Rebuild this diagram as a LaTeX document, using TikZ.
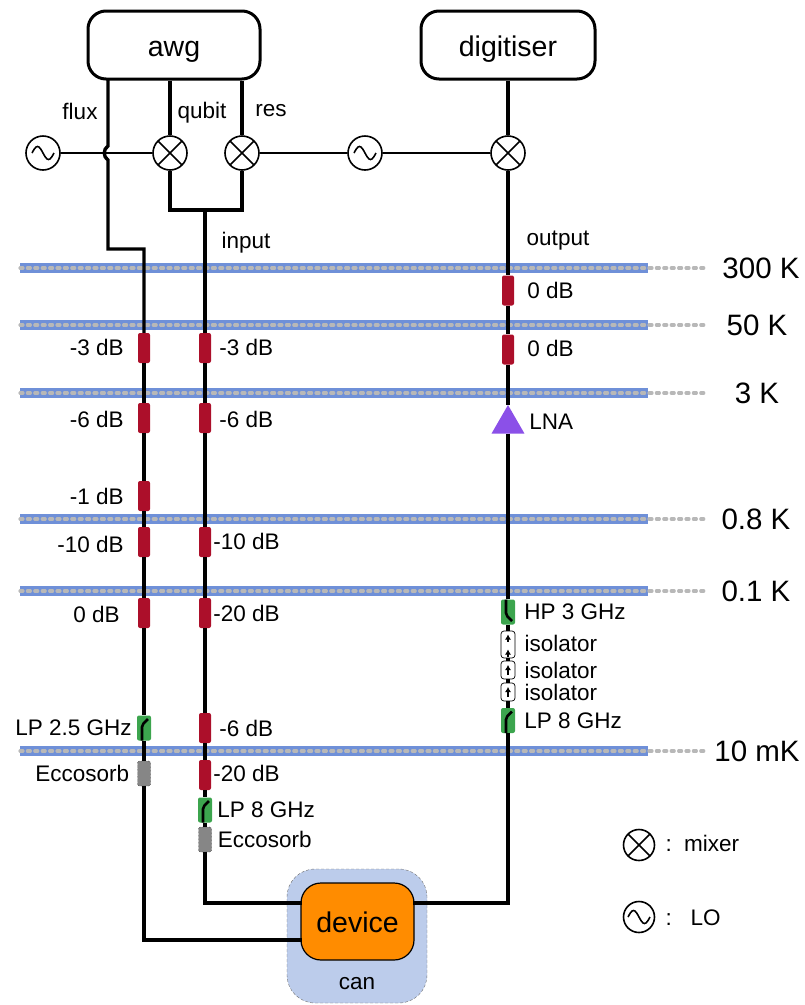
\documentclass[tikz,border=0pt]{standalone}
\usepackage{fontspec}
\setmainfont{Liberation Sans}
\usetikzlibrary{positioning,shapes.geometric,arrows.meta}
\definecolor{attred}{RGB}{172,15,42}
\definecolor{filtgreen}{RGB}{60,165,78}
\definecolor{plateblue}{RGB}{111,144,216}
\definecolor{platedash}{RGB}{184,184,184}
\definecolor{canblue}{RGB}{188,204,235}
\definecolor{devorange}{RGB}{255,140,0}
\definecolor{lnapurple}{RGB}{139,80,232}
\tikzset{
  instr/.style={draw=black, line width=3pt, rounded corners=18pt, fill=white, minimum width=172pt,
    minimum height=68pt, text height=22pt, text depth=0pt, font=\fontsize{28.5}{32}\selectfont},
  wire/.style={line width=3.4pt},
  lowire/.style={line width=1.6pt},
  mixer/.style={circle, draw=black, line width=1.6pt, fill=white, minimum size=34pt, inner sep=0pt,
    path picture={\draw[line width=1.6pt] (path picture bounding box.south west) -- (path picture bounding box.north east)
      (path picture bounding box.north west) -- (path picture bounding box.south east);}},
  losrc/.style={circle, draw=black, line width=1.6pt, fill=white, minimum size=34pt, inner sep=0pt,
    path picture={\draw[line width=1.6pt] (path picture bounding box.center) ++(-11,0) sin ++(5.5,-6.5) cos ++(5.5,6.5)
      sin ++(5.5,6.5) cos ++(5.5,-6.5);}},
  atten/.style={fill=attred, rounded corners=2pt, minimum width=12pt, minimum height=30pt, inner sep=0pt},
  filt/.style={fill=filtgreen, rounded corners=2pt, minimum width=14pt, minimum height=25pt, inner sep=0pt},
  lpfilt/.style={filt, path picture={\draw[line width=2.6pt] (path picture bounding box.center) ++(-2,13) -- ++(0,-16) -- ++(6,-6);}},
  hpfilt/.style={filt, path picture={\draw[line width=2.6pt] (path picture bounding box.center) ++(-2,-13) -- ++(0,16) -- ++(6,6);}},
  eccosorb/.style={fill=gray!95, draw=black, densely dotted, rounded corners=2pt, minimum width=13pt,
    minimum height=25pt, inner sep=0pt},
  isobox/.style={draw=black, line width=0.7pt, fill=white, rounded corners=3pt, minimum width=14pt, minimum height=18pt, inner sep=0pt},
  isolator/.style={isobox, path picture={\draw[-{Latex[length=5pt,width=6pt]}, line width=1.4pt]
    (path picture bounding box.center) ++(0,5) -- ++(0,-10);}},
  longiso/.style={isobox, minimum height=27pt, path picture={\draw[-{Latex[length=5pt,width=6pt]}, line width=1.4pt]
    (path picture bounding box.center) ++(0,-3) -- ++(0,-7);
    \draw[-{Latex[length=5pt,width=6pt]}, line width=1.4pt] (path picture bounding box.center) ++(0,12) -- ++(0,-7);}},
  lbl/.style={inner sep=0pt, font=\fontsize{22.5}{26}\selectfont},
  templbl/.style={inner sep=0pt, font=\fontsize{29.5}{32}\selectfont}
}
\begin{document}
\begin{tikzpicture}[x=1pt, y=-1pt, node distance=14pt]
  \useasboundingbox (0,0) rectangle (805,1005);

  \foreach \ypos/\xpos/\temp in {268/761/300 K, 325/757/50 K, 393/757/3 K, 519/756/0.8 K, 591/756/0.1 K, 751/757/10 mK} {
    \fill[plateblue] (20,\ypos-5) rectangle (648,\ypos+5);
    \draw[platedash, line width=3.2pt, dash pattern=on 3pt off 4.4pt, line cap=round] (20,\ypos) -- (706,\ypos);
    \node[templbl] at (\xpos,\ypos) {\temp};
  }

  \node[draw=black!55, densely dashed, fill=canblue, rounded corners=28pt, minimum width=140pt, minimum height=134pt] (can) at (357,936) {};
  \node[lbl] at (357,984) {can};
  \node[draw=black, line width=1.2pt, fill=devorange, rounded corners=20pt, minimum width=113pt, minimum height=77pt,
    text height=21pt, text depth=0pt, font=\fontsize{28.5}{32}\selectfont] (device) at (357.5,921.5) {device};

  \node[instr] (awg) at (174,45) {awg};
  \node[instr, minimum width=174pt] (digitiser) at (508,45) {digitiser};

  \node[losrc] (lo1) at (43,153) {};
  \node[mixer] (mixq) at (170,153) {};
  \node[mixer] (mixr) at (242,153) {};
  \node[losrc] (lo2) at (365,153) {};
  \node[mixer] (mixo) at (508,153) {};

  \node[lbl] at (80,111) {flux};
  \node[lbl] at (202,113) {qubit};
  \node[lbl] at (271,111) {res};
  \node[lbl] at (246,243) {input};
  \node[lbl] at (558,241) {output};

  \node[atten] (fa1) at (144,348) {};
  \node[atten] (fa2) at (144,418) {};
  \node[atten] (fa3) at (144,496) {};
  \node[atten] (fa4) at (144,542) {};
  \node[atten] (fa5) at (144,613) {};
  \node[lpfilt] (flp) at (144,728) {};
  \node[eccosorb] (fec) at (144,773.5) {};
  \node[lbl, left=of fa1, yshift=1pt] {-3 dB};
  \node[lbl, left=of fa2, yshift=-1pt] {-6 dB};
  \node[lbl, left=of fa3] {-1 dB};
  \node[lbl, left=of fa4, yshift=-2pt] {-10 dB};
  \node[lbl, left=18pt of fa5, yshift=-1pt] {0 dB};
  \node[lbl, left=5pt of flp] {LP 2.5 GHz};
  \node[lbl, left=8pt of fec] {Eccosorb};

  \node[atten] (ia1) at (205,348) {};
  \node[atten] (ia2) at (205,418) {};
  \node[atten] (ia3) at (205,542) {};
  \node[atten] (ia4) at (205,613) {};
  \node[atten] (ia5) at (205,728) {};
  \node[atten] (ia6) at (205,775) {};
  \node[lpfilt] (ilp) at (205,810) {};
  \node[eccosorb] (iec) at (205,839.5) {};
  \node[lbl, right=8pt of ia1, yshift=1pt] {-3 dB};
  \node[lbl, right=8pt of ia2, yshift=-1pt] {-6 dB};
  \node[lbl, right=2pt of ia3, yshift=1pt] {-10 dB};
  \node[lbl, right=2pt of ia4] {-20 dB};
  \node[lbl, right=8pt of ia5] {-6 dB};
  \node[lbl, right=2pt of ia6, yshift=2pt] {-20 dB};
  \node[lbl, right=5pt of ilp] {LP 8 GHz};
  \node[lbl, right=6pt of iec] {Eccosorb};

  \node[atten] (oa1) at (508,290.5) {};
  \node[atten] (oa2) at (508,349.5) {};
  \node[regular polygon, regular polygon sides=3, fill=lnapurple, minimum size=38pt, inner sep=0pt] (lna) at (508,424) {};
  \node[hpfilt] (ohp) at (508,612) {};
  \node[longiso] (oi1) at (508,644.5) {};
  \node[isolator] (oi2) at (508,670) {};
  \node[isolator] (oi3) at (508,692) {};
  \node[lpfilt] (olp) at (508,720.5) {};
  \node[lbl, right=13pt of oa1] {0 dB};
  \node[lbl, right=13pt of oa2, yshift=1pt] {0 dB};
  \node[lbl, right=10pt of lna, yshift=2pt] {LNA};
  \node[lbl, right=9pt of ohp] {HP 3 GHz};
  \node[lbl, right=9pt of oi1, yshift=1pt] {isolator};
  \node[lbl, right=9pt of oi2] {isolator};
  \node[lbl, right=9pt of oi3] {isolator};
  \node[lbl, right=9pt of olp] {LP 8 GHz};

  \node[mixer, minimum size=31pt] (legmix) at (639,845) {};
  \node[lbl, right=10pt of legmix, yshift=2pt] (legmixt) {:\ \ mixer};
  \node[losrc, minimum size=31pt] (leglo) at (639,917) {};
  \node[lbl, right=10pt of leglo, yshift=-1pt] (leglot) {:\ \ \ LO};

  \coordinate (fluxtop) at (108,79);
  \coordinate (fluxa) at (108,146);
  \coordinate (fluxb) at (108,160);
  \coordinate (fluxc) at (108,249);
  \coordinate (injoin) at (205,210);
  \coordinate (fluxend) at (302,940);
  \coordinate (inend) at (302,903);
  \coordinate (outend) at (413,903);

  \draw[lowire] (lo1) -- (mixq);
  \draw[lowire] (mixr) -- (lo2);
  \draw[lowire] (lo2) -- (mixo);
  \draw[wire] (fluxtop) -- (fluxa) .. controls (103,149) and (103,157) .. (fluxb) -- (fluxc) -| (fa1);
  \draw[wire] (mixq |- awg.south) -- (mixq);
  \draw[wire] (mixr |- awg.south) -- (mixr);
  \draw[wire] (mixq) |- (injoin) -| (mixr);
  \draw[wire] (digitiser) -- (mixo);
  \foreach \from/\to in {fa1/fa2, fa2/fa3, fa3/fa4, fa4/fa5, fa5/flp, flp/fec, injoin/ia1, ia1/ia2, ia2/ia3, ia3/ia4, ia4/ia5,
      ia5/ia6, ia6/ilp, ilp/iec, mixo/oa1, oa1/oa2, oa2/lna, lna/ohp, ohp/oi1, oi1/oi2, oi2/oi3, oi3/olp}
    \draw[wire] (\from) -- (\to);
  \draw[wire] (fec) |- (fluxend);
  \draw[wire] (iec) |- (inend);
  \draw[wire] (olp) |- (outend);
\end{tikzpicture}
\end{document}
